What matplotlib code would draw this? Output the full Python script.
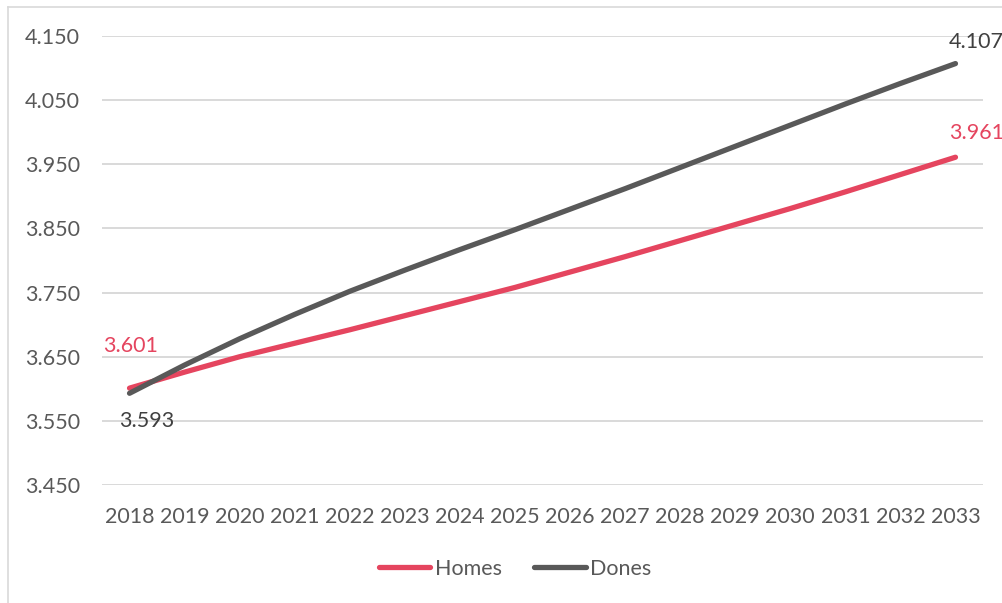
import matplotlib.pyplot as plt
from matplotlib.lines import Line2D
from matplotlib.ticker import FuncFormatter

plt.rcParams['font.family'] = ['Lato', 'DejaVu Sans']

# data
years = [2018, 2019, 2020, 2021, 2022, 2023, 2024, 2025,
         2026, 2027, 2028, 2029, 2030, 2031, 2032, 2033]
homes = [3.601, 3.626, 3.650, 3.671, 3.692, 3.714, 3.736, 3.758,
         3.782, 3.806, 3.831, 3.856, 3.881, 3.907, 3.934, 3.961]
dones = [3.593, 3.637, 3.678, 3.716, 3.752, 3.785, 3.817, 3.848,
         3.880, 3.912, 3.945, 3.978, 4.011, 4.044, 4.076, 4.107]
yticks = [3.450, 3.550, 3.650, 3.750, 3.850, 3.950, 4.050, 4.150]

red = '#E5455F'
dark = '#595959'
text_col = '#595959'

fig = plt.figure(figsize=(10.03, 6.03), dpi=100)
ax = fig.add_axes([102 / 1003, 1 - 485 / 603, 881 / 1003, 449 / 603])

ax.plot(years, homes, color=red, lw=3.8, solid_capstyle='round', zorder=3)
ax.plot(years, dones, color=dark, lw=3.8, solid_capstyle='round', zorder=4)

ax.set_xlim(2017.5, 2033.5)
ax.set_ylim(3.450, 4.150)
ax.set_yticks(yticks)
ax.set_xticks(years)
ax.yaxis.set_major_formatter(FuncFormatter(lambda v, p: f'{v:.3f}'))
ax.grid(axis='y', color='#D9D9D9', lw=1.4)
ax.set_axisbelow(True)
for s in ax.spines.values():
    s.set_visible(False)
ax.tick_params(length=0, labelsize=15.5, labelcolor=text_col)
ax.tick_params(axis='y', pad=16)
ax.tick_params(axis='x', pad=16)

# end-point data labels
lab = dict(textcoords='offset pixels', ha='center', va='center', fontsize=15.5,
           annotation_clip=False)
ax.annotate(f'{homes[0]:.3f}', (years[0], homes[0]), xytext=(1, 42), color=red, **lab)
ax.annotate(f'{dones[0]:.3f}', (years[0], dones[0]), xytext=(17, -28), color='#404040', **lab)
ax.annotate(f'{homes[-1]:.3f}', (years[-1], homes[-1]), xytext=(21, 24), color=red, **lab)
ax.annotate(f'{dones[-1]:.3f}', (years[-1], dones[-1]), xytext=(21, 22), color='#404040', **lab)

handles = [Line2D([0], [0], color=red, lw=3.8, solid_capstyle='round', label='Homes'),
           Line2D([0], [0], color=dark, lw=3.8, solid_capstyle='round', label='Dones')]
fig.legend(handles=handles, loc='center', bbox_to_anchor=(515 / 1003, 1 - 569 / 603),
           ncol=2, frameon=False, fontsize=15.5, labelcolor=text_col,
           handlelength=2.4, handletextpad=0.2, columnspacing=1.5)

# light chart border (left and top edges)
fig.add_artist(Line2D([8 / 1003, 8 / 1003], [0, 1 - 7 / 603], color='#D9D9D9', lw=1.2,
                      transform=fig.transFigure))
fig.add_artist(Line2D([8 / 1003, 1], [1 - 7 / 603, 1 - 7 / 603], color='#D9D9D9', lw=1.2,
                      transform=fig.transFigure))

fig.savefig('out.png', dpi=100)
